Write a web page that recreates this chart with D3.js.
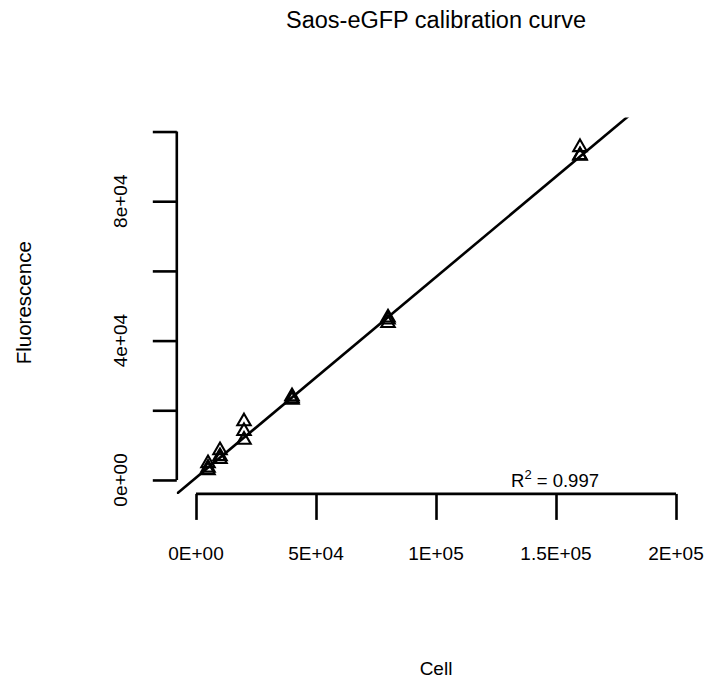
<!DOCTYPE html>
<html>
<head>
<meta charset="utf-8">
<script src="https://cdn.jsdelivr.net/npm/d3@7"></script>
<style>
  html, body { margin: 0; padding: 0; background: #fff; }
  svg { display: block; }
  text { font-family: "Liberation Sans", Arial, Helvetica, sans-serif; fill: #000; }
</style>
</head>
<body>
<svg id="chart" width="709" height="686"></svg>
<script>
// ---- data ----
const cells = [5000, 5000, 5000, 10000, 10000, 10000, 20000, 20000, 20000,
               40000, 40000, 40000, 80000, 80000, 80000, 160000, 160000, 160000];
const fluorescence = [4800, 3500, 2800, 8500, 6800, 6000, 16800, 14000, 11500,
                      24000, 23400, 23000, 46600, 46000, 45000, 95500, 93200, 93000];
const xTicks = [0, 50000, 100000, 150000, 200000];
const xTickLabels = ["0E+00", "5E+04", "1E+05", "1.5E+05", "2E+05"];
const yTicks = [0, 20000, 40000, 60000, 80000, 100000];
const yTickLabels = ["0e+00", "", "4e+04", "", "8e+04", ""];
const fitIntercept = 650;
const fitSlope = 0.576;
const rSquared = "0.997";
const titleText = "Saos-eGFP calibration curve";
const xLabel = "Cell";
const yLabel = "Fluorescence";

// ---- layout ----
const svg = d3.select("#chart");
const plot = { left: 176.8, right: 695.2, top: 117.6, bottom: 493.9 };

const x = d3.scaleLinear().domain([-8000, 208000]).range([plot.left, plot.right]);
const y = d3.scaleLinear().domain([-4000, 104000]).range([plot.bottom, plot.top]);

// clip for the fit line
svg.append("defs").append("clipPath").attr("id", "plotclip")
  .append("rect")
  .attr("x", plot.left).attr("y", plot.top)
  .attr("width", plot.right - plot.left).attr("height", plot.bottom - plot.top);

// title
svg.append("text")
  .attr("x", (plot.left + plot.right) / 2).attr("y", 28)
  .attr("text-anchor", "middle")
  .style("font-size", "23.5px")
  .text(titleText);

// x axis
const xAxis = d3.axisBottom(x).tickValues(xTicks).tickSize(26).tickFormat("");
const gx = svg.append("g").attr("transform", `translate(0,${plot.bottom})`).call(xAxis);
gx.select(".domain").attr("d", `M${x(xTicks[0])},0H${x(xTicks[xTicks.length - 1])}`);
gx.selectAll("path, line").attr("stroke", "#000").attr("stroke-width", 2.6);
svg.append("g").selectAll("text").data(xTicks).join("text")
  .attr("x", d => x(d)).attr("y", 560)
  .attr("text-anchor", "middle")
  .style("font-size", "19px")
  .text((d, i) => xTickLabels[i]);

// y axis
const yAxis = d3.axisLeft(y).tickValues(yTicks).tickSize(24).tickFormat("");
const gy = svg.append("g").attr("transform", `translate(${plot.left},0)`).call(yAxis);
gy.select(".domain").attr("d", `M0,${y(yTicks[0])}V${y(yTicks[yTicks.length - 1])}`);
gy.selectAll("path, line").attr("stroke", "#000").attr("stroke-width", 2.6);
svg.append("g").selectAll("text").data(yTicks).join("text")
  .attr("transform", d => `translate(${127},${y(d)}) rotate(-90)`)
  .attr("text-anchor", "middle")
  .style("font-size", "19px")
  .text((d, i) => yTickLabels[i]);

// axis titles
svg.append("text")
  .attr("x", (plot.left + plot.right) / 2).attr("y", 675)
  .attr("text-anchor", "middle")
  .style("font-size", "19px")
  .text(xLabel);
svg.append("text")
  .attr("transform", `translate(31,${(y(0) + y(100000)) / 2 - 3}) rotate(-90)`)
  .attr("text-anchor", "middle")
  .style("font-size", "20.5px")
  .text(yLabel);

// fit line
const xd = x.domain();
svg.append("line")
  .attr("clip-path", "url(#plotclip)")
  .attr("x1", x(xd[0])).attr("y1", y(fitIntercept + fitSlope * xd[0]))
  .attr("x2", x(xd[1])).attr("y2", y(fitIntercept + fitSlope * xd[1]))
  .attr("stroke", "#000").attr("stroke-width", 2.6);

// points (open triangles)
const tri = d3.symbol().type(d3.symbolTriangle).size(78);
svg.append("g").selectAll("path").data(cells).join("path")
  .attr("transform", (d, i) => `translate(${x(d)},${y(fluorescence[i])})`)
  .attr("d", tri)
  .attr("fill", "none").attr("stroke", "#000").attr("stroke-width", 2.1);

// R^2 annotation
const r2 = svg.append("text")
  .attr("x", 511).attr("y", 487)
  .style("font-size", "18.5px");
r2.append("tspan").text("R");
r2.append("tspan").attr("dy", -8).style("font-size", "13px").text("2");
r2.append("tspan").attr("dy", 8).text(" = " + rSquared);
</script>
</body>
</html>
